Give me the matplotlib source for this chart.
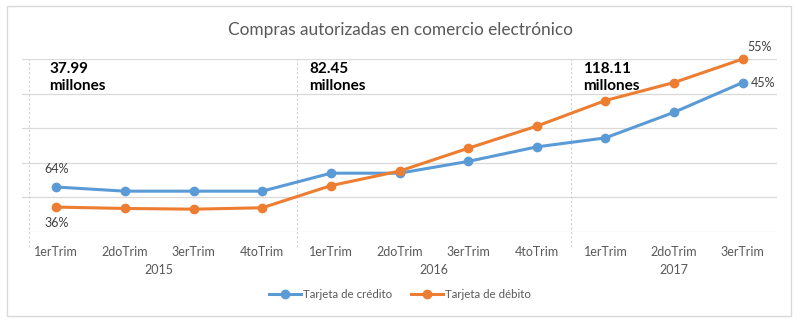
import matplotlib
matplotlib.use("Agg")
import matplotlib.pyplot as plt
from matplotlib.patches import Rectangle

plt.rcParams["font.family"] = ["Lato", "DejaVu Sans"]

TITLE = "Compras autorizadas en comercio electrónico"
QUARTERS = ["1erTrim", "2doTrim", "3erTrim", "4toTrim",
            "1erTrim", "2doTrim", "3erTrim", "4toTrim",
            "1erTrim", "2doTrim", "3erTrim"]
YEARS = ["2015", "2016", "2017"]
YEAR_SIZES = [4, 4, 3]
YEAR_TOTALS = ["37.99\nmillones", "82.45\nmillones", "118.11\nmillones"]

# millones de compras por trimestre
credito = [6.5, 5.9, 5.9, 5.9, 8.5, 8.5, 10.2, 12.3, 13.6, 17.3, 21.6]
debito = [3.6, 3.4, 3.3, 3.5, 6.7, 8.8, 12.1, 15.3, 19.0, 21.6, 25.0]

BLUE = "#5B9BD5"
ORANGE = "#ED7D31"
GRAY = "#595959"

fig = plt.figure(figsize=(8.0, 3.27), dpi=100)
fig.patch.set_facecolor("white")

# chart border
fig.patches.append(Rectangle((7 / 800, 11 / 327), 784 / 800, 310 / 327,
                             transform=fig.transFigure, fill=False,
                             edgecolor="#D9D9D9", lw=1.0))

ax = fig.add_axes([22 / 800, 95 / 327, 755 / 800, 173 / 327])
x = list(range(len(QUARTERS)))

ax.set_xlim(-0.5, len(QUARTERS) - 0.5)
ax.set_ylim(0, 25)
ax.set_yticks([0, 5, 10, 15, 20, 25])
ax.yaxis.grid(True, color="#D9D9D9", lw=0.9)
ax.set_axisbelow(True)
ax.tick_params(axis="y", left=False, labelleft=False)
for s in ax.spines.values():
    s.set_visible(False)

ax.set_xticks(x)
ax.set_xticklabels(QUARTERS, color=GRAY, fontsize=9)
ax.tick_params(axis="x", length=0, pad=10)

# year group separators
bounds = [-0.4]
acc = 0
for n in YEAR_SIZES[:-1]:
    acc += n
    bounds.append(acc - 0.5)
for b in bounds:
    ax.plot([b, b], [-2.1, 25], color="#D0D0D0", lw=0.8, ls=(0, (2, 2)),
            clip_on=False, zorder=1)

# year labels and totals
total_dx = [-0.1, -0.32, -0.32]
start = 0
for yr, n, tot, dx in zip(YEARS, YEAR_SIZES, YEAR_TOTALS, total_dx):
    mid = start + (n - 1) / 2
    ax.text(mid, -5.5, yr, ha="center", va="center", color=GRAY, fontsize=9)
    ax.text(start + dx, 24.6, tot, ha="left", va="top", fontsize=11,
            fontweight="bold", color="black", linespacing=1.25)
    start += n

l1, = ax.plot(x, credito, color=BLUE, lw=2.2, marker="o", ms=6,
              label="Tarjeta de crédito", clip_on=False, zorder=3)
l2, = ax.plot(x, debito, color=ORANGE, lw=2.2, marker="o", ms=6,
              label="Tarjeta de débito", clip_on=False, zorder=3)

# percentage labels
ax.text(0, credito[0] + 2.6, "64%", ha="center", va="center",
        color="#404040", fontsize=9)
ax.text(0, debito[0] - 2.3, "36%", ha="center", va="center",
        color="#404040", fontsize=9)
ax.text(x[-1] + 0.25, debito[-1] + 1.8, "55%", ha="center", va="center",
        color="#404040", fontsize=9)
ax.text(x[-1] + 0.12, credito[-1] - 0.05, "45%", ha="left", va="center",
        color="#404040", fontsize=9)

fig.text(0.5, 1 - 30 / 327, TITLE, ha="center", va="center",
         color=GRAY, fontsize=12.4)

fig.legend(handles=[l1, l2], loc="center", bbox_to_anchor=(0.5, 1 - 295 / 327),
           ncol=2, frameon=False, fontsize=8.3, labelcolor=GRAY,
           handlelength=2.8, handletextpad=0.2, columnspacing=1.6)

fig.savefig("out.png", dpi=100)
